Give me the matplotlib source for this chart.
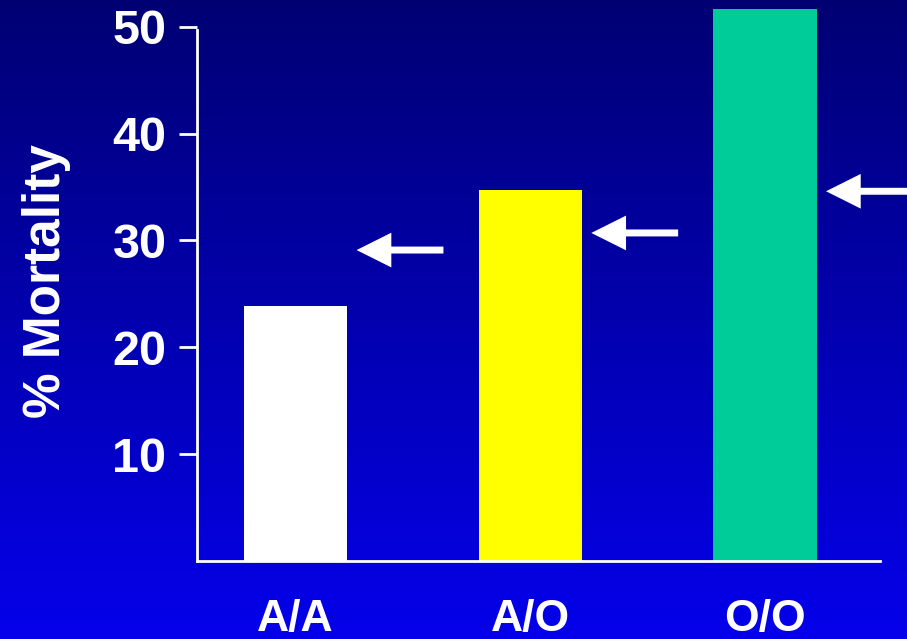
import numpy as np
import matplotlib.pyplot as plt
from matplotlib.patches import FancyArrowPatch

categories = ["A/A", "A/O", "O/O"]
mortality = [23.9, 34.7, 51.7]
expected = [29.1, 30.7, 34.6]
bar_colors = ["white", "#FFFF00", "#00CC99"]
yticks = [10, 20, 30, 40, 50]

plt.rcParams['font.family'] = ['Liberation Sans', 'DejaVu Sans']
plt.rcParams['font.weight'] = 'bold'

fig = plt.figure(figsize=(9.07, 6.39), dpi=100)

# blue gradient background
bg = fig.add_axes([0, 0, 1, 1], zorder=-1)
grad = np.linspace(0, 1, 256).reshape(-1, 1)
top = np.array([0.0, 0.0, 0.45])
bot = np.array([0.02, 0.0, 0.92])
img = top + grad[:, :, None] * (bot - top)
bg.imshow(img, aspect='auto', extent=[0, 1, 0, 1])
bg.axis('off')

ax = fig.add_axes([197 / 907, 78 / 639, 683 / 907, 561 / 639])
ax.set_facecolor('none')
x = np.arange(len(categories))
ax.bar(x, mortality, width=0.44, color=bar_colors, zorder=2)

ax.set_xlim(-0.42, 2.49)
ax.set_ylim(0, 52.5)
ax.set_yticks(yticks)
ax.set_yticklabels([str(t) for t in yticks], fontsize=35, color='white', fontweight='bold')
ax.set_xticks(x)
ax.set_xticklabels(categories, fontsize=32, color='white', fontweight='bold')
ax.tick_params(axis='y', length=13, width=2, color='white', pad=9)
ax.tick_params(axis='x', length=0, pad=27)
for s in ['top', 'right']:
    ax.spines[s].set_visible(False)
for s in ['left', 'bottom']:
    ax.spines[s].set_color('white')
    ax.spines[s].set_linewidth(2)
ax.spines['left'].set_bounds(0, 49.7)
ax.set_ylabel('% Mortality', fontsize=37, color='white', fontweight='bold', labelpad=30)

# arrows pointing at each bar
for i, v in enumerate(expected):
    tip = i + 0.26
    tail = i + 0.63 if i < 2 else i + 0.75
    arr = FancyArrowPatch((tail, v), (tip, v), arrowstyle='simple,head_length=25,head_width=25,tail_width=5',
                          mutation_scale=1, fc='white', ec='none', shrinkA=0, shrinkB=0,
                          clip_on=False, zorder=3)
    ax.add_patch(arr)

fig.savefig('out.png', dpi=100)
